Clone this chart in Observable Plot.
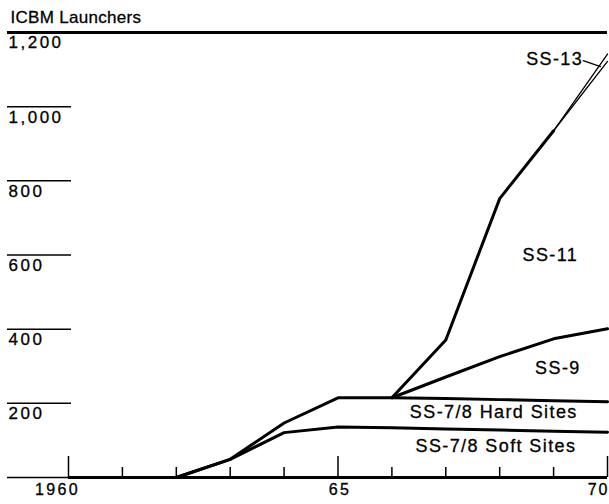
<!DOCTYPE html>
<html>
<head>
<meta charset="utf-8">
<script src="https://cdn.jsdelivr.net/npm/d3@7"></script>
<script src="https://cdn.jsdelivr.net/npm/@observablehq/plot@0.6"></script>
<style>
  html, body { margin: 0; padding: 0; background: #fff; }
  #chart svg { display: block; }
</style>
</head>
<body>
<div id="chart"></div>
<script>
// ---- data ----
const years = [1962, 1963, 1964, 1965, 1966, 1967, 1968, 1969, 1970];
const softSites = [0, 49, 121, 136, 134, 131, 128, 125, 122];
const hardSites = [0, 0, 26, 79, 81, 82, 82, 82, 82];
const ss9  = [null, null, null, null, 0, 58, 116, 167, 197];
const ss11 = [null, null, null, null, 0, 100, 426, 561, 721];
const ss13 = [null, null, null, null, null, null, null, 0, 20];
const seriesNames = ["SS-7/8 Soft Sites", "SS-7/8 Hard Sites", "SS-9", "SS-11", "SS-13"];

const yTicks = [0, 200, 400, 600, 800, 1000];
const yTopTick = [1200];
const yLabelTicks = [200, 400, 600, 800, 1000, 1200];
const xTicks = [1960, 1961, 1962, 1963, 1964, 1965, 1966, 1967, 1968, 1969, 1970];
const xMajor = [1960, 1965, 1970];
const xTickLabels = ["1960", "65", "70"];
const titleText = "ICBM Launchers";

// label anchors (data space)
const labelYears  = [1967.93, 1967.89, 1969.08, 1968.94, 1969.02];
const labelValues = [84, 175, 294, 600, 1127];
const leaderYears  = [1969.55, 1969.87];
const leaderValues = [1124, 1108];

// ---- build stacked boundary rows ----
const seriesValues = [softSites, hardSites, ss9, ss11, ss13];
const rows = [];
years.forEach((yr, j) => {
  let cum = 0;
  seriesValues.forEach((vals, i) => {
    const v = vals[j];
    cum += v ?? 0;
    if (v !== null) rows.push({series: seriesNames[i], year: yr, top: cum});
  });
});
const thickRows = rows.filter(d => d.series !== "SS-13" && !(d.series === "SS-11" && d.year > 1969));
const thinRows  = rows.filter(d => d.series === "SS-13" || (d.series === "SS-11" && d.year >= 1969));
const leader = leaderYears.map((y, i) => ({year: y, value: leaderValues[i]}));

const frameH = 504 - 32 - 27;
const txt = {fill: "#000", stroke: "#000", strokeWidth: 0.3, lineAnchor: "middle"};

const chart = Plot.plot({
  width: 609,
  height: 504,
  marginLeft: 68,
  marginRight: 2,
  marginTop: 32,
  marginBottom: 27,
  x: {domain: [1960, 1970], axis: null},
  y: {domain: [0, 1200], label: null},
  style: {fontFamily: "'Liberation Sans', Arial, Helvetica, sans-serif", background: "#fff", color: "#000"},
  marks: [
    // short gridlines at left
    Plot.axisY(yTicks, {anchor: "left", tickSize: 64, dx: 3, fill: "none", strokeWidth: 1.5, label: null}),
    Plot.axisY(yTopTick, {anchor: "left", tickSize: 64, dx: 3, fill: "none", strokeWidth: 3, label: null}),
    // full-width top line and baseline
    Plot.ruleY(yTopTick, {strokeWidth: 3}),
    Plot.ruleY([0], {strokeWidth: 3}),
    // x ticks (pointing up)
    Plot.tickX(xTicks.filter(d => !xMajor.includes(d)), {x: d => d, insetTop: frameH - 10, strokeWidth: 1.5}),
    Plot.tickX(xMajor, {x: d => d, insetTop: frameH - 21, strokeWidth: 1.5}),
    // series boundary lines
    Plot.line(thickRows, {x: "year", y: "top", z: "series", stroke: "#000", strokeWidth: 3, strokeLinejoin: "round"}),
    Plot.line(thinRows, {x: "year", y: "top", z: "series", stroke: "#000", strokeWidth: 1.3}),
    Plot.line(leader, {x: "year", y: "value", stroke: "#000", strokeWidth: 1.2}),
    // texts
    Plot.text([titleText], {...txt, frameAnchor: "top-left", textAnchor: "start", dx: -58, dy: -15, fontSize: 17}),
    Plot.text(yLabelTicks, {...txt, y: d => d, text: d => d3.format(",")(d), frameAnchor: "left", textAnchor: "start", dx: -60, dy: 10.5, fontSize: 17}),
    Plot.text([xMajor[0]], {...txt, x: d => d, text: () => xTickLabels[0], frameAnchor: "bottom", dy: 12.5, dx: -11, fontSize: 16}),
    Plot.text([xMajor[1]], {...txt, x: d => d, text: () => xTickLabels[1], frameAnchor: "bottom", dy: 12.5, dx: 2, fontSize: 16}),
    Plot.text([xMajor[2]], {...txt, x: d => d, text: () => xTickLabels[2], frameAnchor: "bottom", textAnchor: "end", dy: 12.5, dx: 2, fontSize: 16}),
    Plot.text(seriesNames, {...txt, x: (d, i) => labelYears[i], y: (d, i) => labelValues[i], text: d => d, fontSize: 18})
  ]
});

// letter spacing per text mark (in mark order)
const spacing = ["0.3px", "2.5px", "2.4px", "2.4px", "2.0px", "1.4px"];
chart.querySelectorAll('g[aria-label="text"]').forEach((g, i) => {
  if (spacing[i]) g.setAttribute("letter-spacing", spacing[i]);
});

document.getElementById("chart").appendChild(chart);
</script>
</body>
</html>
